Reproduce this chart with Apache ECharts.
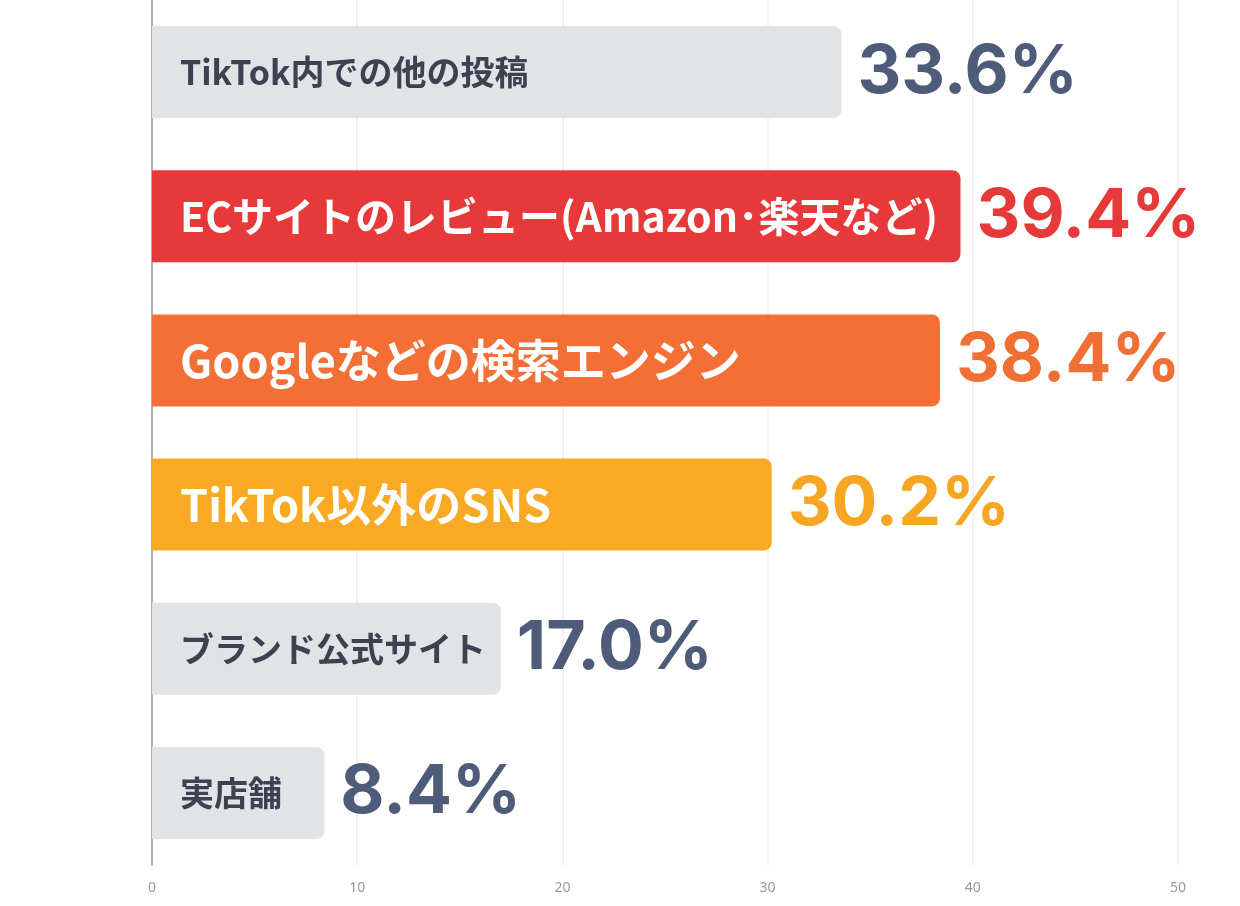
<!DOCTYPE html>
<html>
<head>
<meta charset="utf-8">
<script src="https://cdn.jsdelivr.net/npm/echarts@6/dist/echarts.min.js"></script>
<style>
html,body{margin:0;padding:0;background:#fff;}
#chart{width:1240px;height:906px;}
</style>
</head>
<body>
<div id="chart"></div>
<script>
// カテゴリと値（上から順）
var categories = ['TikTok内での他の投稿', 'ECサイトのレビュー(Amazon･楽天など)', 'Googleなどの検索エンジン', 'TikTok以外のSNS', 'ブランド公式サイト', '実店舗'];
var values = [33.6, 39.4, 38.4, 30.2, 17.0, 8.4];
var xTicks = [0, 10, 20, 30, 40, 50];

// 色（棒 / 数値）
var barColors = ['#e1e3e7', '#e8393a', '#f36f36', '#f9aa25', '#e1e3e7', '#e1e3e7'];
var valueColors = ['#4e5c7a', '#e5393a', '#f06f35', '#f6a623', '#4e5c7a', '#4e5c7a'];
var highlight = [false, true, true, true, false, false];
// 棒内ラベルの文字サイズ
var nameSizes = [34, 41, 45, 45, 34, 34];

var chart = echarts.init(document.getElementById('chart'));

var nameData = [];
var valueData = [];
for (var i = 0; i < values.length; i++) {
	nameData.push({
		value: values[i],
		itemStyle: { color: barColors[i] },
		label: {
			color: highlight[i] ? '#ffffff' : '#3c4250',
			fontSize: nameSizes[i]
		}
	});
	valueData.push({
		value: values[i],
		label: { color: valueColors[i] }
	});
}

var option = {
	animation: false,
	grid: {
		left: 152,
		right: 62,
		top: -5,
		bottom: 41
	},
	xAxis: {
		type: 'value',
		min: xTicks[0],
		max: xTicks[xTicks.length - 1],
		interval: 10,
		axisLine: { show: false },
		axisTick: { show: false },
		axisLabel: {
			color: '#999',
			fontSize: 14,
			margin: 16,
			fontFamily: 'Noto Sans'
		},
		splitLine: {
			lineStyle: { color: '#eeeef1', width: 1.5 }
		}
	},
	yAxis: {
		type: 'category',
		data: categories,
		inverse: true,
		axisLine: {
			show: true,
			lineStyle: { color: '#9a9a9a', width: 1.5 }
		},
		axisTick: { show: false },
		axisLabel: { show: false },
		splitLine: { show: false }
	},
	series: [
		{
			// 棒本体 + 棒内のカテゴリ名
			type: 'bar',
			data: nameData,
			barWidth: 92,
			itemStyle: { borderRadius: [0, 8, 8, 0] },
			label: {
				show: true,
				position: 'insideLeft',
				distance: 28,
				overflow: 'none',
				fontWeight: 'bold',
				fontFamily: '"Noto Sans CJK JP", sans-serif',
				formatter: function (p) { return categories[p.dataIndex]; }
			},
			z: 2
		},
		{
			// 右側の数値ラベル用（透明）
			type: 'bar',
			data: valueData,
			barWidth: 92,
			barGap: '-100%',
			silent: true,
			itemStyle: { color: 'rgba(0,0,0,0)' },
			label: {
				show: true,
				position: 'right',
				distance: 16,
				fontFamily: 'Inter, Lato, sans-serif',
				fontWeight: 'bold',
				fontSize: 68,
				formatter: function (p) { return p.value.toFixed(1) + '%'; }
			},
			z: 3
		}
	]
};
chart.setOption(option);
</script>
</body>
</html>
